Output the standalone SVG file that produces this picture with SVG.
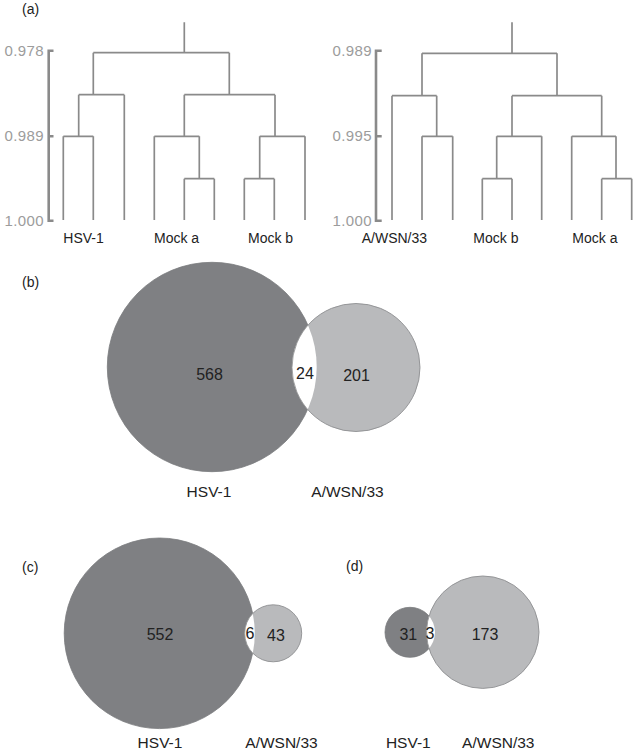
<svg xmlns="http://www.w3.org/2000/svg" width="633" height="754" viewBox="0 0 633 754">
<style>
.bg{fill:#ffffff}
.tree{fill:none;stroke:#8a8a8a;stroke-width:1.7}
.axis{fill:none;stroke:#8a8a8a;stroke-width:2.6}
.ax{font-family:"Liberation Sans",Arial,sans-serif;font-size:15px;fill:#9c9c9c;text-anchor:end;letter-spacing:0.4px}
.lbl{font-family:"Liberation Sans",Arial,sans-serif;font-size:14px;fill:#222}
.vl{font-family:"Liberation Sans",Arial,sans-serif;font-size:15.5px;fill:#222;text-anchor:middle}
.num{font-family:"Liberation Sans",Arial,sans-serif;font-size:16px;fill:#222;text-anchor:middle}
.pl{font-family:"Liberation Sans",Arial,sans-serif;font-size:14px;fill:#222}
.dark{fill:#7f8083;stroke:#7a7b7e;stroke-width:0.8}
.light{fill:#b9babc;stroke:#8f9092;stroke-width:0.9}
.lens{fill:#ffffff;stroke:#8f9092;stroke-width:0.8}
</style>
<defs>
<clipPath id="cb"><circle cx="212" cy="367" r="104.7"/></clipPath>
<clipPath id="cc"><circle cx="159.5" cy="633.3" r="95.3"/></clipPath>
<clipPath id="cd"><circle cx="410" cy="632.3" r="25"/></clipPath>
</defs>
<rect class="bg" x="0" y="0" width="633" height="754"/>

<!-- Panel a left dendrogram -->
<g id="panel-a-left">
<text class="pl" x="22" y="14">(a)</text>
<path class="axis" d="M53.5,50.7 H48.7 V220.7 H53.5 M48.7,136.3 H53.5"/>
<text class="ax" x="44" y="55.5">0.978</text>
<text class="ax" x="44" y="141">0.989</text>
<text class="ax" x="44" y="225.5">1.000</text>
<path class="tree" d="M184.3,22.3 V52.7 M93.3,52.7 H229.3
M93.3,52.7 V94.7 M78.7,94.7 H124.3 M78.7,94.7 V136.3 M63.3,136.3 H93.3 M63.3,136.3 V220 M93.3,136.3 V220 M124.3,94.7 V220
M229.3,52.7 V94.7 M184.3,94.7 H275 M184.3,94.7 V136.3 M154.3,136.3 H199.3 M154.3,136.3 V220 M199.3,136.3 V178.7 M184.3,178.7 H214.3 M184.3,178.7 V220 M214.3,178.7 V220
M275,94.7 V136.3 M259.7,136.3 H305 M259.7,136.3 V178.7 M244.3,178.7 H274.3 M244.3,178.7 V220 M274.3,178.7 V220 M305,136.3 V220"/>
<text class="lbl" x="63.3" y="243">HSV-1</text>
<text class="lbl" x="154" y="243">Mock a</text>
<text class="lbl" x="248" y="243">Mock b</text>
</g>

<!-- Panel a right dendrogram -->
<g id="panel-a-right">
<path class="axis" d="M381.7,50.7 H376 V220.7 H381.7 M376,136.3 H381.7"/>
<text class="ax" x="372" y="55.5">0.989</text>
<text class="ax" x="372" y="141">0.995</text>
<text class="ax" x="372" y="225.5">1.000</text>
<path class="tree" d="M512,22.3 V53.3 M422,53.3 H557
M422,53.3 V95.7 M392,95.7 H436.7 M392,95.7 V220 M436.7,95.7 V136.3 M422,136.3 H452.7 M422,136.3 V220 M452.7,136.3 V220
M557,53.3 V95.7 M512,95.7 H601.7 M512,95.7 V136.3 M496.7,136.3 H541.7 M496.7,136.3 V178.7 M482.3,178.7 H512 M482.3,178.7 V220 M512,178.7 V220 M541.7,136.3 V220
M601.7,95.7 V136.3 M571.7,136.3 H616 M571.7,136.3 V220 M616,136.3 V178.7 M601.7,178.7 H631.7 M601.7,178.7 V220 M631.7,178.7 V220"/>
<text class="lbl" x="361.7" y="243">A/WSN/33</text>
<text class="lbl" x="473.3" y="243">Mock b</text>
<text class="lbl" x="572.3" y="243">Mock a</text>
</g>

<!-- Panel b -->
<g id="panel-b">
<text class="pl" x="22" y="287">(b)</text>
<circle class="dark" cx="212" cy="367" r="104.7"/>
<circle class="light" cx="356" cy="367.5" r="64"/>
<circle class="lens" cx="356" cy="367.5" r="64" clip-path="url(#cb)"/>
<text class="num" x="209.5" y="380">568</text>
<text class="num" x="305" y="378.5">24</text>
<text class="num" x="356.5" y="381">201</text>
<text class="vl" x="209" y="497">HSV-1</text>
<text class="vl" x="347.5" y="497">A/WSN/33</text>
</g>

<!-- Panel c -->
<g id="panel-c">
<text class="pl" x="22" y="572">(c)</text>
<circle class="dark" cx="159.5" cy="633.3" r="95.3"/>
<circle class="light" cx="273.2" cy="633.3" r="28.5"/>
<circle class="lens" cx="273.2" cy="633.3" r="28.5" clip-path="url(#cc)"/>
<text class="num" x="160" y="640">552</text>
<text class="num" x="250" y="639">6</text>
<text class="num" x="276" y="640.5">43</text>
<text class="vl" x="160" y="748">HSV-1</text>
<text class="vl" x="281.5" y="748">A/WSN/33</text>
</g>

<!-- Panel d -->
<g id="panel-d">
<text class="pl" x="346" y="571">(d)</text>
<circle class="dark" cx="410" cy="632.3" r="25"/>
<circle class="light" cx="482.8" cy="632.2" r="56.2"/>
<circle class="lens" cx="482.8" cy="632.2" r="56.2" clip-path="url(#cd)"/>
<text class="num" x="408.3" y="639.5">31</text>
<text class="num" x="430" y="639">3</text>
<text class="num" x="485" y="639.5">173</text>
<text class="vl" x="408.3" y="748">HSV-1</text>
<text class="vl" x="498.3" y="748">A/WSN/33</text>
</g>
</svg>
